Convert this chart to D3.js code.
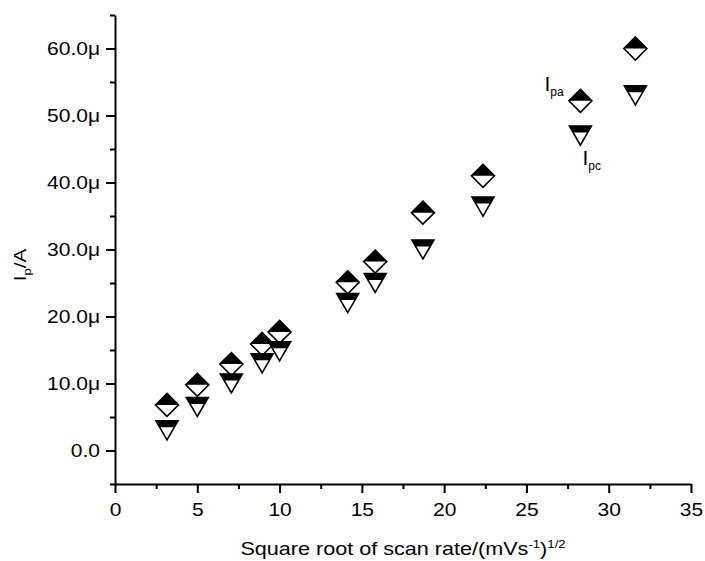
<!DOCTYPE html>
<html>
<head>
<meta charset="utf-8">
<script src="https://cdn.jsdelivr.net/npm/d3@7"></script>
<style>
    body{ margin: 0; background: #fff; }
    text{ font-family: "Liberation Sans", Arial, sans-serif; fill: #000; }
</style>
</head>
<body>
<div id="ChartCanvas"></div>
<script>
// square root of scan rate, (mV/s)^1/2
const sqrtScanRate = [3.16, 5.0, 7.07, 8.94, 10.0, 14.14, 15.81, 18.71, 22.36, 28.28, 31.62];
// anodic peak current, microA
const ipa = [6.8, 9.8, 12.9, 15.9, 17.7, 25.1, 28.2, 35.5, 41.0, 52.2, 60.0];
// cathodic peak current, microA
const ipc = [3.0, 6.5, 10.0, 13.0, 14.8, 22.0, 25.0, 30.0, 36.4, 47.0, 53.0];

const xTicks = [0, 5, 10, 15, 20, 25, 30, 35];
const xMinorTicks = [2.5, 7.5, 12.5, 17.5, 22.5, 27.5, 32.5];
const yTicks = [0, 10, 20, 30, 40, 50, 60];
const yMinorTicks = [-5, 5, 15, 25, 35, 45, 55, 65];

class ScanRateChart{

    constructor(container){
        this.container = container;
        this.width = 705;
        this.height = 561;
    }

    init(){
        this.left = 115;
        this.right = 691;
        this.top = 15;
        this.bottom = 484;
        this.stretch = 1.2; // the fonts are drawn wide in the original

        d3.select(this.container).html('');
        this.svg = d3.select(this.container).append('svg')
            .attr('width', this.width)
            .attr('height', this.height);

        this.x = d3.scaleLinear().domain([0, 35]).range([this.left, this.right]);
        this.y = d3.scaleLinear().domain([-5, 65]).range([this.bottom, this.top]);
    }

    draw(){
        this.draw_axes();
        this.draw_points();
        this.draw_labels();
    }

    draw_axes(){
        let sx = this.stretch;

        // minor ticks first, so the major axis sits over them
        this.svg.append('g')
            .attr('transform', 'translate(0,' + this.bottom + ')')
            .call(d3.axisBottom(this.x).tickValues(xMinorTicks).tickSize(5).tickFormat(''))
            .call(g => g.select('.domain').remove())
            .call(g => g.selectAll('line').attr('stroke-width', 2));

        this.svg.append('g')
            .attr('transform', 'translate(' + this.left + ',0)')
            .call(d3.axisLeft(this.y).tickValues(yMinorTicks).tickSize(5).tickFormat(''))
            .call(g => g.select('.domain').remove())
            .call(g => g.selectAll('line').attr('stroke-width', 2));

        let xAxis = this.svg.append('g')
            .attr('transform', 'translate(0,' + this.bottom + ')')
            .call(d3.axisBottom(this.x).tickValues(xTicks).tickSizeInner(9).tickSizeOuter(0));
        xAxis.select('.domain').attr('stroke-width', 2);
        xAxis.selectAll('line').attr('stroke-width', 2);
        xAxis.selectAll('text')
            .attr('y', 32)
            .attr('dy', 0)
            .attr('transform', 'scale(' + sx + ',1)')
            .style('font-size', '17.5px')
            .attr('fill', '#000');

        let yAxis = this.svg.append('g')
            .attr('transform', 'translate(' + this.left + ',0)')
            .call(d3.axisLeft(this.y).tickValues(yTicks).tickSizeInner(9).tickSizeOuter(0)
                .tickFormat(d => d === 0 ? '0.0' : d.toFixed(1) + 'μ'));
        yAxis.select('.domain').attr('stroke-width', 2);
        yAxis.selectAll('line').attr('stroke-width', 2);
        yAxis.selectAll('text')
            .attr('x', -15 / sx)
            .attr('dy', '0.36em')
            .attr('transform', 'scale(' + sx + ',1)')
            .style('font-size', '17.5px')
            .attr('fill', '#000');

        // x title
        let xt = this.svg.append('g')
            .attr('transform', 'translate(' + ((this.left + this.right) / 2) + ',555)')
            .append('text')
            .attr('text-anchor', 'middle')
            .attr('transform', 'scale(' + sx + ',1)')
            .style('font-size', '18px');
        xt.append('tspan').text('Square root of scan rate/(mVs');
        xt.append('tspan').attr('dy', -7).style('font-size', '11px').text('-1');
        xt.append('tspan').attr('dy', 7).text(')');
        xt.append('tspan').attr('dy', -7).style('font-size', '11px').text('1/2');

        // y title
        let yt = this.svg.append('g')
            .attr('transform', 'translate(26,265) rotate(-90)')
            .append('text')
            .attr('text-anchor', 'middle')
            .attr('transform', 'scale(1.3,1)')
            .style('font-size', '16px');
        yt.append('tspan').text('I');
        yt.append('tspan').attr('dy', 5).style('font-size', '10px').text('p');
        yt.append('tspan').attr('dy', -5).text('/A');
    }

    draw_points(){
        let pts = sqrtScanRate.map((d, i) => ({x: d, a: ipa[i], c: ipc[i]}));
        let r = 11.5;
        let tw = 11, th = 9.5, band = 0.34;
        let bandY = -th + 2 * th * band;
        let bandW = tw * (th - bandY) / (2 * th);

        // anodic: diamond, upper half filled
        let dia = this.svg.selectAll('.ipa').data(pts).enter().append('g')
            .attr('class', 'ipa')
            .attr('transform', d => 'translate(' + this.x(d.x) + ',' + this.y(d.a) + ')');
        dia.append('path')
            .attr('d', `M0,${-r}L${r},0L0,${r}L${-r},0Z`)
            .attr('fill', '#fff');
        dia.append('path')
            .attr('d', `M0,${-r}L${r},0L${-r},0Z`)
            .attr('fill', '#000');
        dia.append('path')
            .attr('d', `M0,${-r}L${r},0L0,${r}L${-r},0Z`)
            .attr('fill', 'none')
            .attr('stroke', '#000')
            .attr('stroke-width', 1.6)
            .attr('stroke-linejoin', 'miter');

        // cathodic: down triangle, top band filled
        let tri = this.svg.selectAll('.ipc').data(pts).enter().append('g')
            .attr('class', 'ipc')
            .attr('transform', d => 'translate(' + this.x(d.x) + ',' + this.y(d.c) + ')');
        tri.append('path')
            .attr('d', `M${-tw},${-th}L${tw},${-th}L0,${th}Z`)
            .attr('fill', '#fff');
        tri.append('path')
            .attr('d', `M${-tw},${-th}L${tw},${-th}L${bandW},${bandY}L${-bandW},${bandY}Z`)
            .attr('fill', '#000');
        tri.append('path')
            .attr('d', `M${-tw},${-th}L${tw},${-th}L0,${th}Z`)
            .attr('fill', 'none')
            .attr('stroke', '#000')
            .attr('stroke-width', 1.6);
    }

    draw_labels(){
        let last = sqrtScanRate.length - 2;
        let px = this.x(sqrtScanRate[last]);

        let la = this.svg.append('text')
            .attr('x', px - 36)
            .attr('y', this.y(ipa[last]) - 9.5)
            .style('font-size', '21px');
        la.append('tspan').text('I');
        la.append('tspan').attr('dy', 5).style('font-size', '12px').text('pa');

        let lc = this.svg.append('text')
            .attr('x', px + 2)
            .attr('y', this.y(ipc[last]) + 29)
            .style('font-size', '21px');
        lc.append('tspan').text('I');
        lc.append('tspan').attr('dy', 5).style('font-size', '12px').text('pc');
    }
}

let chart = new ScanRateChart('#ChartCanvas');
chart.init();
chart.draw();
</script>
</body>
</html>
